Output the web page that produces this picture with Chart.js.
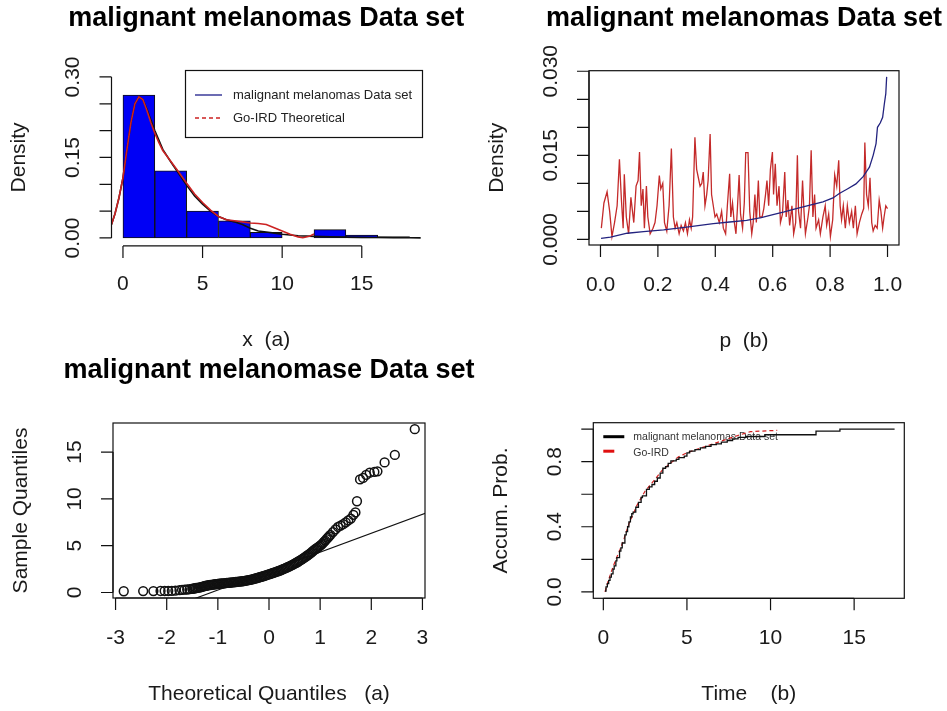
<!DOCTYPE html>
<html>
<head>
<meta charset="utf-8">
<script src="https://cdn.jsdelivr.net/npm/chart.js@4/dist/chart.umd.min.js"></script>
<style>
html,body{margin:0;padding:0;background:#fff;}
#wrap{position:relative;width:947px;height:711px;overflow:hidden;background:#fff;}
canvas{position:absolute;display:block;}
</style>
</head>
<body>
<div id="wrap">
<canvas id="c1" width="470" height="355" style="left:0;top:0;width:470px;height:355px"></canvas>
<canvas id="c2" width="477" height="355" style="left:470px;top:0;width:477px;height:355px"></canvas>
<canvas id="c3" width="500" height="356" style="left:0;top:355px;width:500px;height:356px"></canvas>
<canvas id="c4" width="477" height="356" style="left:470px;top:355px;width:477px;height:356px"></canvas>
</div>
<script>
// ---------------- Panel (a) top: histogram + densities ----------------
const histMid = [1, 3, 5, 7, 9, 11, 13, 15, 17];
const histDensity = [0.266, 0.125, 0.050, 0.032, 0.0105, 0, 0.0155, 0.0055, 0.0025];
const goIrdDensX = [-0.72,-0.5,-0.25,0,0.25,0.5,0.75,1.0,1.25,1.5,1.75,2.0,2.25,2.5,3.0,3.5,4.0,4.5,5.0,5.5,6.0,6.5,7.0,7.5,8.0,8.5,9.0,9.5,10.0,10.5,11.0,11.3,11.7,12.0];
const goIrdDensY = [0.025,0.045,0.075,0.112,0.165,0.215,0.250,0.263,0.258,0.238,0.215,0.195,0.178,0.163,0.143,0.123,0.102,0.082,0.066,0.052,0.040,0.034,0.032,0.030,0.028,0.027,0.025,0.019,0.013,0.007,0.002,0.0005,0.003,0.0075];
const dataDensX = [-0.72,-0.5,-0.25,0,0.25,0.5,0.75,1.0,1.25,1.5,1.75,2.0,2.25,2.5,3.0,3.5,4.0,4.5,5.0,5.5,6.0,6.5,7.0,7.5,8.0,8.5,9.0,9.5,10.0,11.0,12.0,13.0,14.0,15.0,16.0,17.0,18.0,18.7];
const dataDensY = [0.025,0.045,0.075,0.112,0.165,0.215,0.250,0.263,0.258,0.240,0.220,0.200,0.183,0.165,0.142,0.120,0.098,0.078,0.063,0.050,0.040,0.034,0.030,0.025,0.018,0.013,0.011,0.009,0.007,0.004,0.003,0.002,0.0015,0.001,0.0008,0.0005,0.0003,0.0002];
const histXTicks = [0, 5, 10, 15];
const histXLabels = ['0', '5', '10', '15'];
const histYTicks = [0, 0.05, 0.10, 0.15, 0.20, 0.25, 0.30];
const histYLabels = ['0.00', '', '', '0.15', '', '', '0.30'];

// ---------------- Panel (b) top: density vs p ----------------
const pRed = [0.003,0.012,0.023,0.032,0.040,0.049,0.058,0.066,0.073,0.079,0.083,0.090,0.098,0.106,0.116,0.124,0.131,0.136,0.142,0.148,0.153,0.160,0.165,0.173,0.183,0.190,0.197,0.205,0.210,0.217,0.223,0.231,0.239,0.247,0.254,0.260,0.266,0.274,0.281,0.289,0.296,0.303,0.310,0.316,0.321,0.329,0.335,0.341,0.347,0.353,0.358,0.364,0.370,0.375,0.382,0.387,0.393,0.399,0.405,0.414,0.422,0.428,0.436,0.442,0.450,0.454,0.460,0.465,0.472,0.477,0.483,0.488,0.495,0.501,0.506,0.514,0.520,0.527,0.532,0.538,0.543,0.550,0.555,0.563,0.569,0.575,0.580,0.586,0.592,0.599,0.603,0.609,0.615,0.622,0.627,0.634,0.642,0.647,0.653,0.659,0.667,0.673,0.680,0.686,0.690,0.697,0.704,0.709,0.714,0.723,0.728,0.734,0.740,0.746,0.751,0.760,0.766,0.775,0.783,0.788,0.795,0.801,0.809,0.816,0.823,0.830,0.835,0.840,0.846,0.853,0.860,0.867,0.875,0.881,0.888,0.894,0.902,0.910,0.917,0.921,0.927,0.933,0.939,0.945,0.950,0.957,0.964,0.971,0.977,0.983,0.988,0.994,1.000];
const densRed = [0.002,0.0065,0.0085,0.005,0.0005,0.003,0.006,0.0143,0.007,0.002,0.0116,0.004,0.001,0.0075,0.003,0.0095,0.0105,0.0156,0.006,0.009,0.002,0.0095,0.004,0.001,0.002,0.003,0.006,0.0114,0.009,0.010,0.003,0.0015,0.006,0.0162,0.004,0.002,0.003,0.001,0.0025,0.0015,0.003,0.001,0.0035,0.002,0.004,0.0182,0.0125,0.011,0.0095,0.010,0.012,0.006,0.008,0.0105,0.0188,0.008,0.006,0.004,0.0045,0.003,0.005,0.002,0.001,0.006,0.0117,0.004,0.0065,0.0035,0.001,0.0055,0.0115,0.0045,0.002,0.0065,0.0155,0.0155,0.005,0.001,0.003,0.008,0.003,0.0105,0.004,0.004,0.0055,0.008,0.0105,0.006,0.0125,0.0156,0.008,0.0135,0.006,0.0095,0.003,0.0045,0.012,0.004,0.007,0.0025,0.006,0.001,0.003,0.015,0.005,0.002,0.0105,0.005,0.001,0.004,0.006,0.0159,0.004,0.008,0.002,0.0035,0.001,0.004,0.006,0.0025,0.0045,0.0005,0.0035,0.0115,0.0095,0.0141,0.006,0.0035,0.006,0.002,0.006,0.003,0.005,0.002,0.006,0.001,0.003,0.0045,0.0055,0.0173,0.008,0.006,0.011,0.003,0.0015,0.0025,0.002,0.007,0.005,0.002,0.004,0.006,0.0055];
const pBlue = [0.002,0.035,0.093,0.15,0.22,0.30,0.393,0.45,0.509,0.56,0.601,0.64,0.682,0.73,0.775,0.81,0.832,0.86,0.89,0.915,0.937,0.95,0.96,0.965,0.975,0.983,0.989,0.994,0.997];
const densBlue = [0.0002,0.0004,0.0011,0.0014,0.0017,0.0022,0.0028,0.0031,0.0034,0.0039,0.0044,0.0049,0.0055,0.0061,0.0067,0.0074,0.0082,0.0090,0.0099,0.0112,0.0129,0.0150,0.0171,0.0200,0.0208,0.0218,0.0242,0.0260,0.0290];
const pXTicks = [0, 0.2, 0.4, 0.6, 0.8, 1.0];
const pXLabels = ['0.0', '0.2', '0.4', '0.6', '0.8', '1.0'];
const pYTicks = [0, 0.005, 0.010, 0.015, 0.020, 0.025, 0.030];
const pYLabels = ['0.000', '', '', '0.015', '', '', '0.030'];

// ---------------- Panel (a) bottom: normal Q-Q ----------------
const qqTheo = [-2.84,-2.46,-2.26,-2.12,-2.04,-1.97,-1.90,-1.83,-1.75,-1.70,-1.65,-1.60,-1.55,
-1.500,-1.475,-1.450,-1.425,-1.400,-1.375,-1.350,-1.325,-1.300,-1.275,
-1.250,-1.225,-1.200,-1.175,-1.150,-1.125,-1.100,-1.075,-1.050,-1.025,
-1.000,-0.975,-0.950,-0.925,-0.900,-0.875,-0.850,-0.825,-0.800,-0.775,
-0.750,-0.725,-0.700,-0.675,-0.650,-0.625,-0.600,-0.575,-0.550,-0.525,
-0.500,-0.475,-0.450,-0.425,-0.400,-0.375,-0.350,-0.325,-0.300,-0.275,
-0.250,-0.225,-0.200,-0.175,-0.150,-0.125,-0.100,-0.075,-0.050,-0.025,
0.000,0.025,0.050,0.075,0.100,0.125,0.150,0.175,0.200,0.225,
0.250,0.275,0.300,0.325,0.350,0.375,0.400,0.425,0.450,0.475,
0.500,0.525,0.550,0.575,0.600,0.625,0.650,0.675,0.700,0.725,
0.750,0.775,0.800,0.825,0.850,0.875,0.900,0.925,0.950,0.975,
1.000,1.025,1.050,1.075,1.100,1.125,1.150,1.175,1.200,
1.25,1.30,1.35,1.40,1.45,1.50,1.55,1.60,1.65,1.69,1.72,1.78,1.84,1.90,1.97,2.06,2.12,2.26,2.46,2.85];
const qqSample = [0.13,0.15,0.15,0.16,0.16,0.16,0.18,0.20,0.25,0.28,0.30,0.32,0.35,
0.40,0.42,0.45,0.48,0.50,0.52,0.55,0.58,0.62,0.66,
0.70,0.72,0.75,0.78,0.80,0.82,0.84,0.86,0.88,0.90,
0.92,0.94,0.95,0.96,0.97,0.98,1.00,1.02,1.03,1.04,
1.05,1.07,1.08,1.10,1.12,1.13,1.15,1.16,1.18,1.20,
1.22,1.25,1.27,1.29,1.32,1.35,1.38,1.41,1.45,1.48,
1.52,1.56,1.60,1.64,1.68,1.72,1.76,1.80,1.85,1.90,
1.94,1.98,2.03,2.08,2.12,2.17,2.22,2.27,2.32,2.37,
2.43,2.49,2.55,2.61,2.67,2.73,2.80,2.86,2.93,3.00,
3.08,3.15,3.23,3.31,3.40,3.48,3.57,3.66,3.76,3.85,
3.95,4.05,4.15,4.26,4.38,4.49,4.60,4.70,4.80,4.90,
5.00,5.12,5.25,5.40,5.55,5.70,5.85,6.00,6.15,
6.45,6.75,7.00,7.15,7.30,7.50,7.70,7.90,8.30,8.55,9.75,12.08,12.24,12.56,12.80,12.88,12.95,13.90,14.70,17.45];
const qqLineX = [-1.5, 3.1];
const qqLineY = [-0.75, 8.55];
const qqXTicks = [-3, -2, -1, 0, 1, 2, 3];
const qqXLabels = ['-3', '-2', '-1', '0', '1', '2', '3'];
const qqYTicks = [0, 5, 10, 15];
const qqYLabels = ['0', '5', '10', '15'];

// ---------------- Panel (b) bottom: cumulative probability ----------------
const ecdfX = [0.10,0.16,0.24,0.32,0.40,0.48,0.58,0.65,0.75,0.81,0.97,1.05,1.13,1.29,1.37,1.45,1.53,1.62,1.70,1.78,1.94,2.10,2.26,2.34,2.58,2.75,2.91,3.07,3.23,3.40,3.56,3.72,3.88,4.04,4.36,4.52,4.84,5.00,5.16,5.48,5.80,6.12,6.44,6.76,7.06,7.41,7.73,8.06,8.54,9.66,12.72,14.15,17.42];
const ecdfY = [0.005,0.03,0.05,0.07,0.09,0.11,0.14,0.16,0.19,0.21,0.25,0.27,0.30,0.35,0.37,0.40,0.43,0.46,0.48,0.49,0.52,0.55,0.58,0.59,0.63,0.645,0.66,0.68,0.70,0.73,0.76,0.77,0.79,0.805,0.815,0.825,0.835,0.855,0.865,0.875,0.885,0.895,0.905,0.91,0.92,0.93,0.94,0.95,0.955,0.966,0.988,1.0,1.0];
const goIrdCdfX = [0.1,0.3,0.5,0.75,1.0,1.25,1.5,1.75,2.0,2.5,3.0,3.5,4.0,4.5,5.0,6.0,7.0,8.0,8.8,10.4];
const goIrdCdfY = [0.0,0.07,0.13,0.20,0.26,0.33,0.41,0.47,0.53,0.62,0.68,0.745,0.79,0.83,0.855,0.89,0.925,0.96,0.985,0.993];
const cdfXTicks = [0, 5, 10, 15];
const cdfXLabels = ['0', '5', '10', '15'];
const cdfYTicks = [0, 0.2, 0.4, 0.6, 0.8, 1.0];
const cdfYLabels = ['0.0', '', '0.4', '', '0.8', ''];

// ---------------- drawing helpers ----------------
const FONT = "'Liberation Sans', Arial, Helvetica, sans-serif";
const INK = '#111111';
const TICK = 12;
const LAB = 21;
const TTL = 27;

Chart.defaults.animation = false;
Chart.defaults.font.family = FONT;

function zip(xs, ys) { return xs.map((x, i) => ({ x: x, y: ys[i] })); }

function makeR(s) {
  return {
    id: 'rStyle',
    beforeDatasetsDraw(chart) { if (s.legendUnder) s.legendUnder(chart.ctx, chart.chartArea); },
    afterDatasetsDraw(chart) {
      const ctx = chart.ctx, a = chart.chartArea, xs = chart.scales.x, ys = chart.scales.y;
      ctx.save();
      ctx.strokeStyle = INK; ctx.fillStyle = INK; ctx.lineWidth = 1.2;
      if (s.box) ctx.strokeRect(a.left, a.top, a.right - a.left, a.bottom - a.top);
      const xp = s.xTicks.map(v => xs.getPixelForValue(v));
      const yAx = a.bottom + (s.xOff || 0);
      ctx.beginPath();
      ctx.moveTo(xp[0], yAx); ctx.lineTo(xp[xp.length - 1], yAx);
      xp.forEach(p => { ctx.moveTo(p, yAx); ctx.lineTo(p, yAx + TICK); });
      const yp = s.yTicks.map(v => ys.getPixelForValue(v));
      const xAx = a.left - (s.yOff || 0);
      ctx.moveTo(xAx, yp[0]); ctx.lineTo(xAx, yp[yp.length - 1]);
      yp.forEach(p => { ctx.moveTo(xAx, p); ctx.lineTo(xAx - TICK, p); });
      ctx.stroke();
      ctx.fillStyle = '#1a1a1a';
      ctx.font = LAB + 'px ' + FONT;
      ctx.textAlign = 'center'; ctx.textBaseline = 'middle';
      s.xLabels.forEach((t, i) => { if (t) ctx.fillText(t, xp[i], a.bottom + 40); });
      s.yLabels.forEach((t, i) => {
        if (!t) return;
        ctx.save(); ctx.translate(a.left - 38, yp[i]); ctx.rotate(-Math.PI / 2); ctx.fillText(t, 0, 0); ctx.restore();
      });
      ctx.fillText(s.xTitle, (a.left + a.right) / 2 + (s.xTitleShift || 0), a.bottom + 96);
      ctx.save(); ctx.translate(a.left - 92, (a.top + a.bottom) / 2); ctx.rotate(-Math.PI / 2); ctx.fillText(s.yTitle, 0, 0); ctx.restore();
      if (s.title) {
        ctx.fillStyle = '#000';
        ctx.font = 'bold ' + TTL + 'px ' + FONT;
        ctx.fillText(s.title, (a.left + a.right) / 2, a.top - 52);
      }
      if (s.legendOver) s.legendOver(ctx, a);
      ctx.restore();
    }
  };
}

function mk(id, spec, datasets, xr, yr, pad) {
  return new Chart(document.getElementById(id), {
    type: 'line',
    data: { datasets: datasets },
    options: {
      responsive: false, maintainAspectRatio: false, animation: false, devicePixelRatio: 1,
      events: [],
      layout: { padding: pad },
      plugins: { legend: { display: false }, tooltip: { enabled: false }, title: { display: false } },
      scales: {
        x: { type: 'linear', display: false, min: xr[0], max: xr[1], offset: false },
        y: { type: 'linear', display: false, min: yr[0], max: yr[1] }
      }
    },
    plugins: [makeR(spec)]
  });
}

const lineDs = (data, color, width, extra) => Object.assign({
  type: 'line', data: data, borderColor: color, borderWidth: width, pointRadius: 0,
  fill: false, tension: 0
}, extra || {});

// ---- Panel 1 ----
mk('c1', {
  xTicks: histXTicks, xLabels: histXLabels, yTicks: histYTicks, yLabels: histYLabels,
  xOff: 1.5, title: 'malignant melanomas Data set', xTitle: 'x  (a)', yTitle: 'Density',
  legendOver(ctx, a) {
    ctx.save();
    ctx.lineWidth = 1.2; ctx.strokeStyle = INK;
    ctx.strokeRect(185.5, 70.5, 237, 67);
    ctx.lineWidth = 1.3;
    ctx.strokeStyle = '#1c1c8a';
    ctx.beginPath(); ctx.moveTo(195, 95); ctx.lineTo(222, 95); ctx.stroke();
    ctx.strokeStyle = '#cc2222'; ctx.setLineDash([4, 3]);
    ctx.beginPath(); ctx.moveTo(195, 118); ctx.lineTo(222, 118); ctx.stroke();
    ctx.setLineDash([]);
    ctx.fillStyle = '#222'; ctx.font = '13px ' + FONT; ctx.textAlign = 'left'; ctx.textBaseline = 'middle';
    ctx.fillText('malignant melanomas Data set', 233, 95);
    ctx.fillText('Go-IRD Theoretical', 233, 118);
    ctx.restore();
  }
}, [
  lineDs(zip(goIrdDensX, goIrdDensY), '#cc2222', 1.6),
  lineDs(zip(dataDensX, dataDensY), '#111111', 1.6),
  { type: 'bar', data: zip(histMid, histDensity), backgroundColor: '#0000f5', borderColor: '#111', borderWidth: 1,
    borderSkipped: false, barPercentage: 1, categoryPercentage: 1, grouped: false }
], [-0.72, 18.72], [-0.012, 0.312], { left: 111.5, right: 49, top: 70.5, bottom: 110.6 });

// ---- Panel 2 ----
mk('c2', {
  box: true, xTicks: pXTicks, xLabels: pXLabels, yTicks: pYTicks, yLabels: pYLabels,
  title: 'malignant melanomas Data set', xTitle: 'p  (b)', yTitle: 'Density'
}, [
  lineDs(zip(pBlue, densBlue), '#23237f', 1.3),
  lineDs(zip(pRed, densRed), '#c42a2a', 1.3)
], [-0.04, 1.04], [-0.001, 0.0301], { left: 119, right: 48, top: 70.7, bottom: 110 });

// ---- Panel 3 ----
mk('c3', {
  box: true, xTicks: qqXTicks, xLabels: qqXLabels, yTicks: qqYTicks, yLabels: qqYLabels,
  title: 'malignant melanomase Data set', xTitle: 'Theoretical Quantiles   (a)', yTitle: 'Sample Quantiles'
}, [
  lineDs(zip(qqLineX, qqLineY), '#111', 1.1),
  { type: 'line', data: zip(qqTheo, qqSample), showLine: false, pointRadius: 4.4, pointBorderWidth: 1.5,
    pointBorderColor: '#111', pointBackgroundColor: 'rgba(0,0,0,0)', borderColor: '#111' }
], [-3.05, 3.05], [-0.59, 18.11], { left: 113, right: 75, top: 68, bottom: 113 });

// ---- Panel 4 ----
mk('c4', {
  box: true, xTicks: cdfXTicks, xLabels: cdfXLabels, yTicks: cdfYTicks, yLabels: cdfYLabels,
  xTitle: 'Time    (b)', yTitle: 'Accum. Prob.',
  legendUnder(ctx, a) {
    ctx.save();
    ctx.lineWidth = 3;
    ctx.strokeStyle = '#000';
    ctx.beginPath(); ctx.moveTo(a.left + 10, a.top + 14); ctx.lineTo(a.left + 31, a.top + 14); ctx.stroke();
    ctx.strokeStyle = '#e01010';
    ctx.beginPath(); ctx.moveTo(a.left + 10, a.top + 28.5); ctx.lineTo(a.left + 21, a.top + 28.5); ctx.stroke();
    ctx.fillStyle = '#333'; ctx.font = '10.5px ' + FONT; ctx.textAlign = 'left'; ctx.textBaseline = 'middle';
    ctx.fillText('malignant melanomas Data set', a.left + 40, a.top + 14);
    ctx.fillText('Go-IRD', a.left + 40, a.top + 30);
    ctx.restore();
  }
}, [
  lineDs(zip(ecdfX, ecdfY), '#111', 1.3, { stepped: 'before' }),
  lineDs(zip(goIrdCdfX, goIrdCdfY), '#d42020', 1.2, { borderDash: [4, 3] })
], [-0.6, 18.0], [-0.04, 1.04], { left: 123.3, right: 42.7, top: 67.7, bottom: 112.7 });
</script>
</body>
</html>
